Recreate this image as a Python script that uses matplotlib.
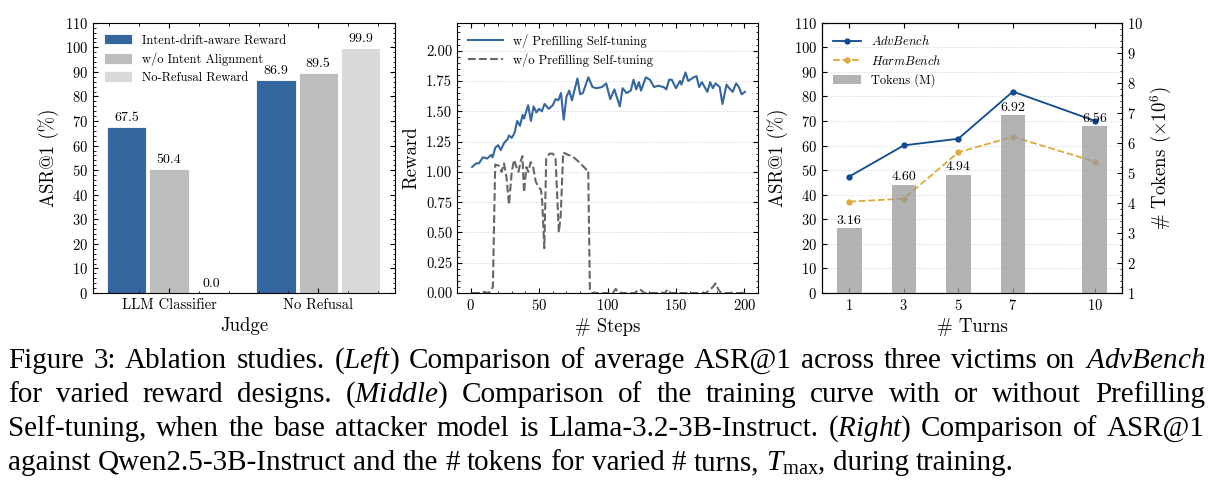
import numpy as np
import matplotlib
matplotlib.use('Agg')
import matplotlib.pyplot as plt
from matplotlib.ticker import MultipleLocator, AutoMinorLocator, NullLocator, FormatStrFormatter

# ---- data: left panel (reward designs) ----
judges = ['LLM Classifier', 'No Refusal']
reward_names = ['Intent-drift-aware Reward', 'w/o Intent Alignment', 'No-Refusal Reward']
asr_intent_drift = [67.5, 86.9]
asr_wo_alignment = [50.4, 89.5]
asr_no_refusal = [0.0, 99.9]

# ---- data: middle panel (training curves) ----
steps_w = [1, 4, 6, 9, 12, 15, 16, 18, 20, 22, 24.5, 27, 28, 30, 32, 34, 36, 38, 39, 42,
           44, 46, 48, 50, 52, 54, 57, 60, 62, 64, 66, 68, 70, 72, 74, 78, 80, 82, 86, 89,
           92, 96, 99, 102, 105, 109, 111, 114, 117, 119, 121, 123, 124.5, 128, 131, 134,
           137, 141, 143, 145, 147, 150, 153, 154, 157, 159, 163, 165, 167, 169, 171, 173,
           175, 177, 179, 182, 184, 187, 189, 191.5, 194, 196, 198, 200.5]
reward_w = [1.04, 1.07, 1.07, 1.12, 1.11, 1.14, 1.12, 1.20, 1.22, 1.18, 1.24, 1.27, 1.30, 1.28,
            1.32, 1.42, 1.38, 1.47, 1.44, 1.55, 1.42, 1.54, 1.49, 1.52, 1.50, 1.56, 1.52, 1.55,
            1.60, 1.59, 1.65, 1.43, 1.62, 1.67, 1.59, 1.77, 1.64, 1.65, 1.78, 1.70, 1.69, 1.70,
            1.73, 1.60, 1.68, 1.54, 1.69, 1.65, 1.67, 1.76, 1.68, 1.74, 1.67, 1.78, 1.76, 1.70,
            1.71, 1.70, 1.68, 1.76, 1.76, 1.69, 1.75, 1.72, 1.82, 1.75, 1.78, 1.79, 1.70, 1.74,
            1.70, 1.66, 1.74, 1.69, 1.73, 1.70, 1.56, 1.72, 1.69, 1.66, 1.73, 1.70, 1.64, 1.66]

steps_wo = [1, 8, 10, 12, 14, 16.2, 17.9, 20.6, 22.6, 24.3, 26, 28, 30, 31.7, 33.4, 34.9, 36.6,
            37.8, 39, 40.7, 42.1, 43.8, 45.5, 47.5, 49.4, 51.4, 52.3, 53.8, 55.2, 57.6, 60, 62,
            64.4, 65.8, 67.6, 71.2, 74.2, 77.3, 80.2, 84.4, 85.9, 87.1, 88, 104, 106, 108, 120,
            123, 125, 127, 142, 144, 146, 172, 175, 177, 179, 181, 183, 198, 200]
reward_wo = [0.0, 0.0, 0.01, 0.0, 0.01, 0.05, 1.06, 1.05, 1.00, 1.07, 0.97, 0.73, 1.00, 1.10,
             1.04, 1.00, 1.09, 1.13, 0.83, 1.04, 1.00, 1.08, 1.05, 0.92, 0.88, 0.85, 0.75, 0.37,
             1.11, 1.15, 1.15, 1.12, 0.50, 0.64, 1.16, 1.14, 1.13, 1.10, 1.07, 1.02, 1.02, 0.03,
             0.0, 0.0, 0.035, 0.0, 0.0, 0.03, 0.02, 0.0, 0.0, 0.03, 0.0, 0.0, 0.03, 0.05, 0.08,
             0.03, 0.0, 0.0, 0.01]

# ---- data: right panel (# turns) ----
turns = [1, 3, 5, 7, 10]
asr_advbench = [47.4, 60.1, 62.8, 82.0, 70.1]
asr_harmbench = [37.2, 38.4, 57.3, 63.6, 53.5]
tokens_m = [3.16, 4.60, 4.94, 6.92, 6.56]

plt.rcParams.update({
    'font.family': 'cmr10',
    'mathtext.fontset': 'cm',
    'mathtext.rm': 'Liberation Serif',
    'mathtext.it': 'Liberation Serif:italic',
    'axes.formatter.use_mathtext': True,
    'axes.unicode_minus': False,
    'xtick.direction': 'in', 'ytick.direction': 'in',
    'xtick.top': True, 'ytick.right': True,
    'xtick.minor.visible': True, 'ytick.minor.visible': True,
    'xtick.major.size': 3.5, 'ytick.major.size': 3.5,
    'xtick.minor.size': 1.8, 'ytick.minor.size': 1.8,
    'xtick.labelsize': 10.5, 'ytick.labelsize': 10.5,
    'axes.labelsize': 13.5,
    'axes.linewidth': 0.8,
    'legend.frameon': False,
    'legend.fontsize': 9,
})

fig = plt.figure(figsize=(12.21, 4.95), dpi=100)
bot, h = 0.408, 0.546

# ---------------- left ----------------
ax1 = fig.add_axes([0.0762, bot, 0.2473, h])
x = np.arange(len(judges))
bw, off = 0.264, 0.284
cols = ['#3466a0', '#bdbdbd', '#d9d9d9']
for k, (vals, name) in enumerate(zip([asr_intent_drift, asr_wo_alignment, asr_no_refusal], reward_names)):
    xs = x + (k - 1) * off
    ax1.bar(xs, vals, bw, color=cols[k], edgecolor='white', linewidth=0.6, label=name)
    for xi, v in zip(xs, vals):
        ax1.text(xi, v + 1.2, f'{v:.1f}', ha='center', va='bottom', fontsize=10)
ax1.set_xticks(x)
ax1.set_xticklabels(judges)
ax1.set_xlim(-0.51, 1.515)
ax1.set_ylim(0, 110)
ax1.yaxis.set_major_locator(MultipleLocator(10))
ax1.yaxis.set_minor_locator(AutoMinorLocator(5))
ax1.set_xlabel('Judge')
ax1.set_ylabel('ASR@1 (%)')
ax1.legend(loc='upper left', handlelength=2.2, handleheight=0.9, labelspacing=0.45,
           borderaxespad=0.5)

# ---------------- middle ----------------
ax2 = fig.add_axes([0.3743, bot, 0.2465, h])
ax2.plot(steps_w, reward_w, color='#3466a0', lw=1.5, label='w/ Prefilling Self-tuning')
ax2.plot(steps_wo, reward_wo, color='#666666', lw=1.5, ls='--', label='w/o Prefilling Self-tuning')
ax2.set_xlim(-10, 210)
ax2.set_ylim(0, 2.23)
ax2.yaxis.set_major_locator(MultipleLocator(0.25))
ax2.yaxis.set_major_formatter(FormatStrFormatter('%.2f'))
ax2.xaxis.set_major_locator(MultipleLocator(50))
ax2.yaxis.grid(True, ls='--', lw=0.5, color='#dddddd')
ax2.set_axisbelow(True)
ax2.set_xlabel('# Steps')
ax2.set_ylabel('Reward')
ax2.legend(loc='upper left', handlelength=2.8, labelspacing=0.45, borderaxespad=0.5)

# ---------------- right ----------------
ax3 = fig.add_axes([0.6732, bot, 0.2457, h])
l1, = ax3.plot(turns, asr_advbench, '-o', color='#0d4a92', lw=1.3, ms=3.5, label=r'$\mathit{AdvBench}$')
l2, = ax3.plot(turns, asr_harmbench, '--o', color='#e0a93a', lw=1.3, ms=3.5, label=r'$\mathit{HarmBench}$')
ax3.set_xlim(0, 11)
ax3.set_ylim(0, 110)
ax3.set_xticks(turns)
ax3.xaxis.set_minor_locator(NullLocator())
ax3.yaxis.set_major_locator(MultipleLocator(10))
ax3.yaxis.set_minor_locator(NullLocator())
ax3.yaxis.grid(True, ls='--', lw=0.5, color='#dddddd')
ax3.tick_params(which='both', right=False)
ax3.set_xlabel('# Turns')
ax3.set_ylabel('ASR@1 (%)')

ax3b = ax3.twinx()
bars = ax3b.bar(turns, tokens_m, 0.9, color='#9a9a9a', alpha=0.75, label='Tokens (M)')
for t, v in zip(turns, tokens_m):
    ax3b.text(t, v + 0.05, f'{v:.2f}', ha='center', va='bottom', fontsize=10)
ax3b.set_ylim(1, 10)
ax3b.yaxis.set_major_locator(MultipleLocator(1))
ax3b.yaxis.set_minor_locator(AutoMinorLocator(5))
ax3b.xaxis.set_minor_locator(NullLocator())
ax3b.tick_params(which='both', left=False, right=True, direction='in')
ax3b.set_ylabel(r'# Tokens ($\times 10^6$)')
ax3b.legend([l1, l2, bars], [l1.get_label(), l2.get_label(), 'Tokens (M)'],
            loc='upper left', handlelength=2.2, labelspacing=0.45, borderaxespad=0.5)

# ---------------- caption (justified lines) ----------------
caption = [
    r'Figure 3: Ablation studies. ($\mathit{Left}$) Comparison of average ASR@1 across three victims on $\mathit{AdvBench}$',
    r'for varied reward designs.  ($\mathit{Middle}$) Comparison of the training curve with or without Prefilling',
    r'Self-tuning, when the base attacker model is Llama-3.2-3B-Instruct. ($\mathit{Right}$) Comparison of ASR@1',
    r'against Qwen2.5-3B-Instruct and the # tokens for varied # turns, $T_{\max}$, during training.',
]
baselines = [368, 402, 436, 470]
x_left, x_right = 8, 1205
W, H = fig.get_size_inches() * fig.dpi
renderer = fig.canvas.get_renderer()
cap_kw = dict(family='Liberation Serif', math_fontfamily='custom', fontsize=21, va='baseline')
space = fig.text(0, 0, 'a a', **cap_kw)
noss = fig.text(0, 0, 'aa', **cap_kw)
sp_w = space.get_window_extent(renderer).width - noss.get_window_extent(renderer).width
space.remove(); noss.remove()
for i, (line, yb) in enumerate(zip(caption, baselines)):
    words = line.split()
    objs = [fig.text(0, 1 - yb / H, w, **cap_kw) for w in words]
    widths = [o.get_window_extent(renderer).width for o in objs]
    if i < len(caption) - 1:
        gap = (x_right - x_left - sum(widths)) / (len(words) - 1)
    else:
        gap = sp_w
    xp = x_left
    for o, wd in zip(objs, widths):
        o.set_x(xp / W)
        xp += wd + gap

fig.savefig('out.png', dpi=100)
